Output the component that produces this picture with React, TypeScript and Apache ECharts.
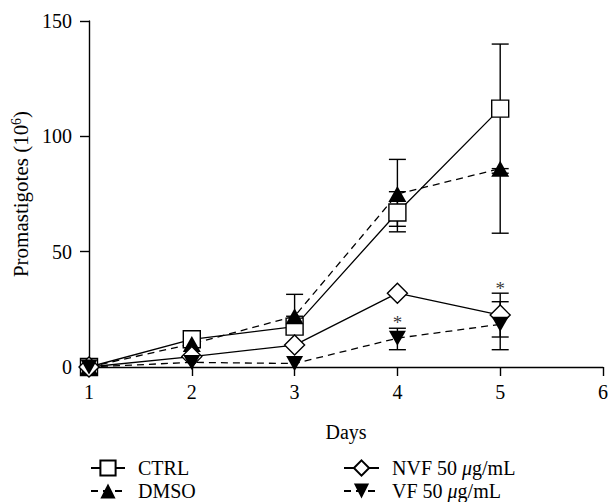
import React, { useEffect, useRef } from "react";
import * as echarts from "echarts";

const days = [1, 2, 3, 4, 5];
const xTicks = [1, 2, 3, 4, 5, 6];
const yTicks = [0, 50, 100, 150];

const ctrl = [0, 12, 17.5, 67, 112];
const ctrlLo = [0, 12, 15, 58.6, 84];
const ctrlHi = [0, 12, 20, 76, 140];

const dmso = [0, 10, 22, 75, 86];
const dmsoLo = [0, 10, 22, 61, 58];
const dmsoHi = [0, 10, 31.5, 90, 86];

const nvf = [0, 4.5, 9.5, 32, 22.5];
const nvfLo = [0, 4.5, 9.5, 32, 13];
const nvfHi = [0, 4.5, 9.5, 32, 32];

const vf = [0, 2, 1.5, 12.5, 18.5];
const vfLo = [0, 2, 1.5, 7.5, 7.5];
const vfHi = [0, 2, 1.5, 16.8, 28.3];

const starDays = [4, 5];
const starValues = [19.5, 34];

const seriesNames = ["CTRL", "DMSO", "NVF 50 μg/mL", "VF 50 μg/mL"];

const FONT = "Liberation Serif, DejaVu Serif, serif";

export default function App() {
  const ref = useRef<HTMLDivElement>(null);

  useEffect(() => {
    if (!ref.current) return;
    const chart = echarts.init(ref.current, undefined, { renderer: "svg" });

    const pts = (vals: number[]) => days.map((d, i) => [d, vals[i]]);
    const errData = (lo: number[], hi: number[]) =>
      days.map((d, i) => [d, lo[i], hi[i]]);

    const errSeries = (lo: number[], hi: number[]) => ({
      type: "custom",
      silent: true,
      z: 1,
      data: errData(lo, hi),
      encode: { x: 0, y: [1, 2] },
      renderItem: (params: any, api: any) => {
        const x = api.value(0);
        const l = api.value(1);
        const h = api.value(2);
        if (l === h) return null;
        const p1 = api.coord([x, l]);
        const p2 = api.coord([x, h]);
        const cw = 8.5;
        const style = { stroke: "#000", lineWidth: 1.4 };
        return {
          type: "group",
          children: [
            { type: "line", shape: { x1: p1[0], y1: p1[1], x2: p2[0], y2: p2[1] }, style },
            { type: "line", shape: { x1: p1[0] - cw, y1: p1[1], x2: p1[0] + cw, y2: p1[1] }, style },
            { type: "line", shape: { x1: p2[0] - cw, y1: p2[1], x2: p2[0] + cw, y2: p2[1] }, style },
          ],
        };
      },
    });

    const lineSeries = (
      name: string,
      vals: number[],
      symbol: string,
      size: any,
      fill: string,
      dashed: boolean,
      rotate = 0
    ) => ({
      name,
      type: "line",
      data: pts(vals),
      symbol,
      symbolSize: size,
      symbolRotate: rotate,
      showAllSymbol: true,
      z: 3,
      lineStyle: {
        color: "#000",
        width: 1.3,
        type: dashed ? [7, 5] : "solid",
      },
      itemStyle: {
        color: fill,
        borderColor: "#000",
        borderWidth: fill === "#fff" ? 1.4 : 0,
      },
    });

    const legendText = {
      fontFamily: FONT,
      fontSize: 20,
      color: "#000",
      padding: [0, 0, 0, 8],
      rich: {
        i: { fontFamily: FONT, fontSize: 20, fontStyle: "italic", color: "#000" },
      },
    };
    const legendFmt = (name: string) => name.replace("μ", "{i|μ}");

    const legendBase = {
      orient: "vertical",
      top: 458,
      height: 60,
      padding: 0,
      itemWidth: 34,
      itemHeight: 19,
      itemGap: 3,
      textStyle: legendText,
      formatter: legendFmt,
      selectedMode: false,
    };

    chart.setOption({
      animation: false,
      backgroundColor: "#fff",
      textStyle: { fontFamily: FONT },
      grid: { left: 89, right: 4, top: 21, bottom: 135, containLabel: false },
      legend: [
        { ...legendBase, data: [seriesNames[0], seriesNames[1]], left: 90 },
        { ...legendBase, data: [seriesNames[2], seriesNames[3]], left: 343, itemWidth: 35 },
      ],
      xAxis: {
        type: "value",
        min: xTicks[0],
        max: xTicks[xTicks.length - 1],
        interval: 1,
        name: "Days",
        nameLocation: "middle",
        nameGap: 55,
        nameTextStyle: { fontFamily: FONT, fontSize: 20, color: "#000" },
        axisLine: { lineStyle: { color: "#000", width: 1.4 } },
        axisTick: { show: true, length: 9, lineStyle: { color: "#000", width: 1.4 } },
        axisLabel: { fontFamily: FONT, fontSize: 20, color: "#000", margin: 15 },
        splitLine: { show: false },
      },
      yAxis: {
        type: "value",
        min: yTicks[0],
        max: yTicks[yTicks.length - 1],
        interval: 50,
        name: "Promastigotes (10{sup|6})",
        nameLocation: "middle",
        nameGap: 49,
        nameRotate: 90,
        nameTextStyle: {
          fontFamily: FONT,
          fontSize: 21,
          color: "#000",
          rich: {
            sup: { fontFamily: FONT, fontSize: 14, color: "#000", verticalAlign: "top", padding: [0, 0, 8, 0] },
          },
        },
        axisLine: { show: true, lineStyle: { color: "#000", width: 1.4 } },
        axisTick: { show: true, length: 9, lineStyle: { color: "#000", width: 1.4 } },
        axisLabel: { fontFamily: FONT, fontSize: 20, color: "#000", margin: 17 },
        splitLine: { show: false },
      },
      series: [
        errSeries(ctrlLo, ctrlHi),
        errSeries(dmsoLo, dmsoHi),
        errSeries(nvfLo, nvfHi),
        errSeries(vfLo, vfHi),
        lineSeries(seriesNames[0], ctrl, "rect", 17, "#fff", false),
        lineSeries(seriesNames[1], dmso, "triangle", [18, 16], "#000", true),
        lineSeries(seriesNames[2], nvf, "diamond", 20, "#fff", false),
        lineSeries(seriesNames[3], vf, "triangle", [17, 15], "#000", true, 180),
        {
          type: "scatter",
          silent: true,
          z: 5,
          symbolSize: 0,
          data: starDays.map((d, i) => [d, starValues[i]]),
          label: {
            show: true,
            position: "inside",
            formatter: "*",
            fontFamily: FONT,
            fontSize: 19,
            color: "#000",
          },
        },
      ],
    });

    return () => chart.dispose();
  }, []);

  return (
    <div
      ref={ref}
      style={{ position: "fixed", left: 0, top: 0, width: 611, height: 502 }}
    />
  );
}
